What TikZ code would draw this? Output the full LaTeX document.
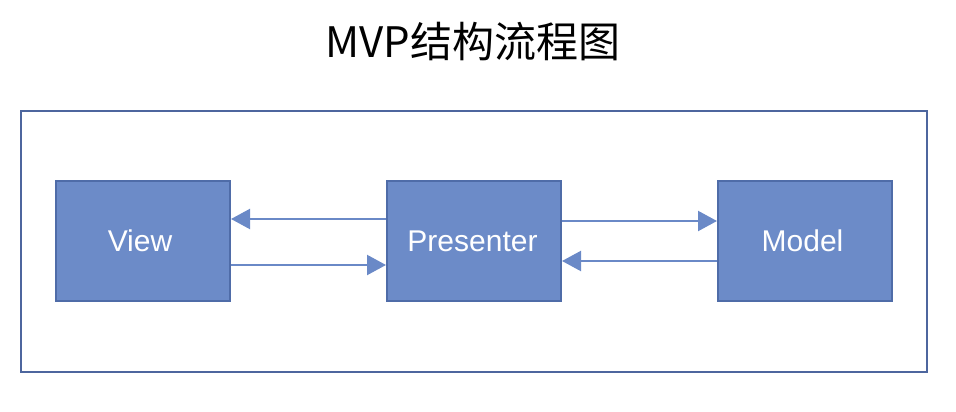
\documentclass[tikz,border=0pt]{standalone}
\usepackage{fontspec}
\setmainfont{Liberation Sans}
\newfontfamily\cjk{Noto Sans CJK SC}
\usetikzlibrary{arrows.meta}
\definecolor{boxfill}{HTML}{6C8BC8}
\definecolor{boxline}{HTML}{4F6CA8}
\definecolor{frameline}{HTML}{4D669E}
\definecolor{arrowcol}{HTML}{6A89C7}
\tikzset{
  mvpbox/.style={draw=boxline, line width=2pt, fill=boxfill, minimum width=174pt, minimum height=120pt, inner sep=0pt, text=white, font=\fontsize{30}{34}\selectfont},
  flow/.style={draw=arrowcol, line width=2.2pt, -{Triangle[length=19pt,width=20pt]}}
}
\begin{document}
\begin{tikzpicture}[x=1pt,y=-1pt]
\useasboundingbox (0,0) rectangle (956,412);
\node[font=\cjk\fontsize{42}{47}\selectfont, inner sep=0pt] (title) at (473,42) {MVP结构流程图};
\node[draw=frameline, line width=2pt, minimum width=906pt, minimum height=261pt, inner sep=0pt] (frame) at (474,241.5) {};
\node[mvpbox] (view) at (143,241) {\hspace*{-6pt}View};
\node[mvpbox] (pres) at (474,241) {\hspace*{-3pt}Presenter};
\node[mvpbox] (model) at (805,241) {\hspace*{-5pt}Model};
\draw[flow] ([yshift=22pt]pres.west) -- ([yshift=22pt]view.east);
\draw[flow] ([yshift=-24pt]view.east) -- ([yshift=-24pt]pres.west);
\draw[flow] ([yshift=20pt]pres.east) -- ([yshift=20pt]model.west);
\draw[flow] ([yshift=-20pt]model.west) -- ([yshift=-20pt]pres.east);
\end{tikzpicture}
\end{document}
